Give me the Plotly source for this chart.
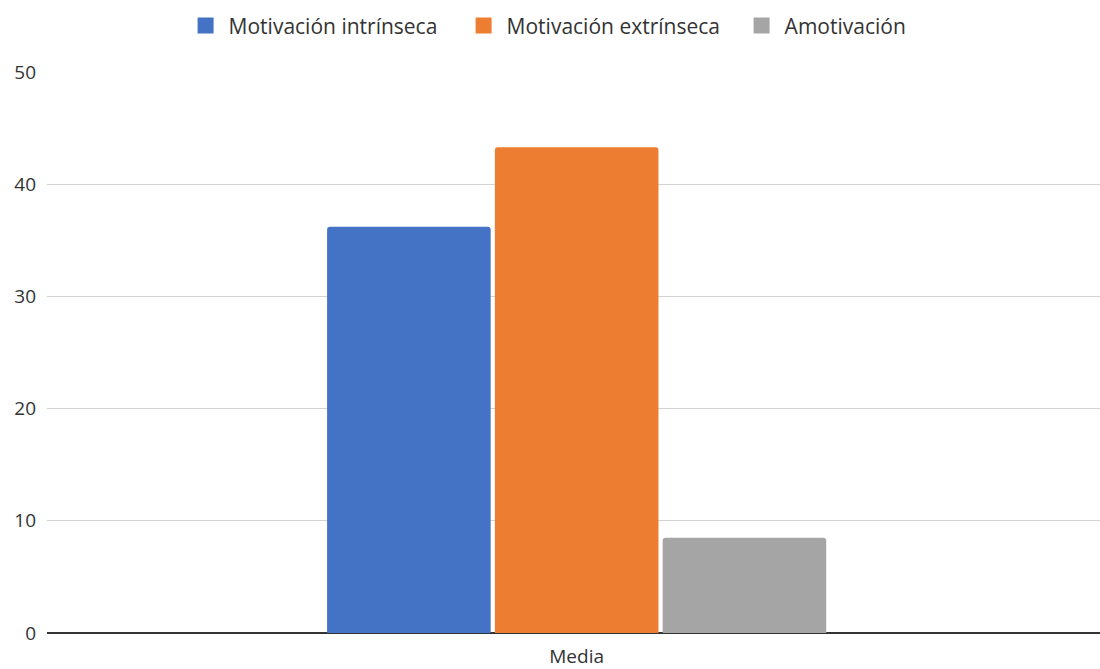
import plotly.graph_objects as go

categories = ["Media"]
series_names = ["Motivación intrínseca", "Motivación extrínseca", "Amotivación"]
series_values = [[36.2], [43.3], [8.5]]
colors = ["#4472C4", "#ED7D31", "#A5A5A5"]
y_ticks = [0, 10, 20, 30, 40, 50]

fig = go.Figure()
for name, vals, col in zip(series_names, series_values, colors):
    fig.add_trace(go.Bar(x=categories, y=vals, name=name, showlegend=False,
                         marker=dict(color=col, line=dict(width=0), cornerradius=3)))
# legend entries with larger square swatches
for name, col in zip(series_names, colors):
    fig.add_trace(go.Scatter(x=[None], y=[None], mode="markers", name=name,
                             marker=dict(symbol="square", size=22, color=col)))

font = "Open Sans, Noto Sans, sans-serif"
fig.update_layout(
    width=1100, height=669,
    margin=dict(l=47, r=0, t=72, b=36),
    paper_bgcolor="white", plot_bgcolor="white",
    barmode="group", bargap=0.522, bargroupgap=0.025,
    font=dict(family=font, size=19, color="#333333"),
    legend=dict(orientation="h", x=0.166, xanchor="left", xref="container",
                y=0.992, yref="container", yanchor="top", font=dict(size=21, color="#333333"),
                itemsizing="trace", itemwidth=36, entrywidth=227),
    showlegend=True,
)
fig.update_xaxes(range=[-0.503, 0.497], showgrid=False, ticks="", tickfont=dict(size=19),
                 showline=False, zeroline=False, ticklabelstandoff=10)
fig.update_yaxes(range=[0, 50], tickvals=y_ticks, showgrid=True, gridcolor="#D3D3D3",
                 gridwidth=1, zeroline=True, zerolinecolor="#333333", zerolinewidth=2,
                 ticks="", ticklabelstandoff=10, tickfont=dict(size=19))

fig.write_html("out.html")
